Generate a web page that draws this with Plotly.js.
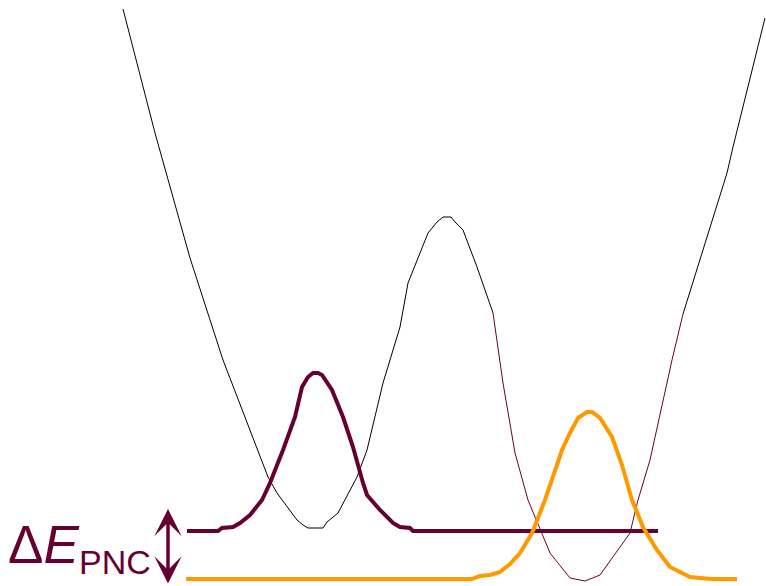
<!DOCTYPE html>
<html>
<head>
<meta charset="utf-8">
<script src="https://cdn.plot.ly/plotly-3.0.1.min.js"></script>
<style>html,body{margin:0;padding:0;background:#fff;}#chart{width:766px;height:586px;}</style>
</head>
<body>
<div id="chart"></div>
<script>
// Potential (black): left branch, barrier and right outer wall
const potLeftX = [123,155,190,223,268,277,297,303,308,323,327,338,357,367,383,400,408,420,428,437,443,451,455,463,477,493];
const potLeftY = [9,133,258,360,477,493,520,525,528,528,522,513,477,450,383,327,283,253,233,222,217,217,222,230,267,313];
const potRightX = [683,688,727,733,765];
const potRightY = [314,298,173,147,18];
// Potential (maroon): right well
const wellX = [493,503,515,528,550,570,585,600,630,638,650,672,683];
const wellY = [313,383,453,500,553,578,581,575,533,500,460,360,314];
// Maroon wavefunction
const psiLX = [187,218,222,233,240,250,262,270,283,295,302,308,313,318,322,332,343,353,363,367,380,393,400,410,413,440,658];
const psiLY = [531,531,528,527,523,515,500,483,450,417,387,377,373,373,375,390,417,447,483,495,510,523,527,528,531,531,531];
// Orange wavefunction
const psiRX = [186,472,480,490,500,510,520,532,545,562,570,578,587,592,600,612,622,632,643,657,670,682,690,700,712,737];
const psiRY = [579,579,576,575,572,564,553,533,500,450,433,418,412,412,418,437,465,500,527,550,567,573,577,578,579,579];

const maroon = '#660033';
const orange = '#ff9900';

const data = [
  {x: potLeftX, y: potLeftY, mode: 'lines', line: {color: '#000', width: 1}},
  {x: wellX, y: wellY, mode: 'lines', line: {color: maroon, width: 1}},
  {x: potRightX, y: potRightY, mode: 'lines', line: {color: '#000', width: 1}},
  {x: psiLX, y: psiLY, mode: 'lines', line: {color: maroon, width: 4}},
  {x: psiRX, y: psiRY, mode: 'lines', line: {color: orange, width: 4}}
];

const font = 'Liberation Sans, Arial, sans-serif';
const layout = {
  width: 766, height: 586,
  margin: {l: 0, r: 0, t: 0, b: 0},
  paper_bgcolor: '#fff', plot_bgcolor: '#fff',
  showlegend: false,
  xaxis: {range: [0, 766], visible: false, fixedrange: true},
  yaxis: {range: [586, 0], visible: false, fixedrange: true},
  annotations: [
    {x: 168, y: 509, ax: 168, ay: 585, xref: 'x', yref: 'y', axref: 'x', ayref: 'y',
     showarrow: true, arrowhead: 3, startarrowhead: 3, arrowside: 'end+start',
     arrowwidth: 3.5, arrowsize: 1.3, startarrowsize: 1.3, arrowcolor: maroon, text: ''},
    {x: 6, y: 544, xref: 'x', yref: 'y', xanchor: 'left', yanchor: 'middle', showarrow: false,
     text: 'Δ<i>E</i>',
     font: {family: font, size: 53, color: maroon}},
    {x: 77, y: 562, xref: 'x', yref: 'y', xanchor: 'left', yanchor: 'middle', showarrow: false,
     text: 'PNC',
     font: {family: font, size: 34, color: maroon}}
  ]
};

Plotly.newPlot('chart', data, layout, {displayModeBar: false, staticPlot: true});
</script>
</body>
</html>
